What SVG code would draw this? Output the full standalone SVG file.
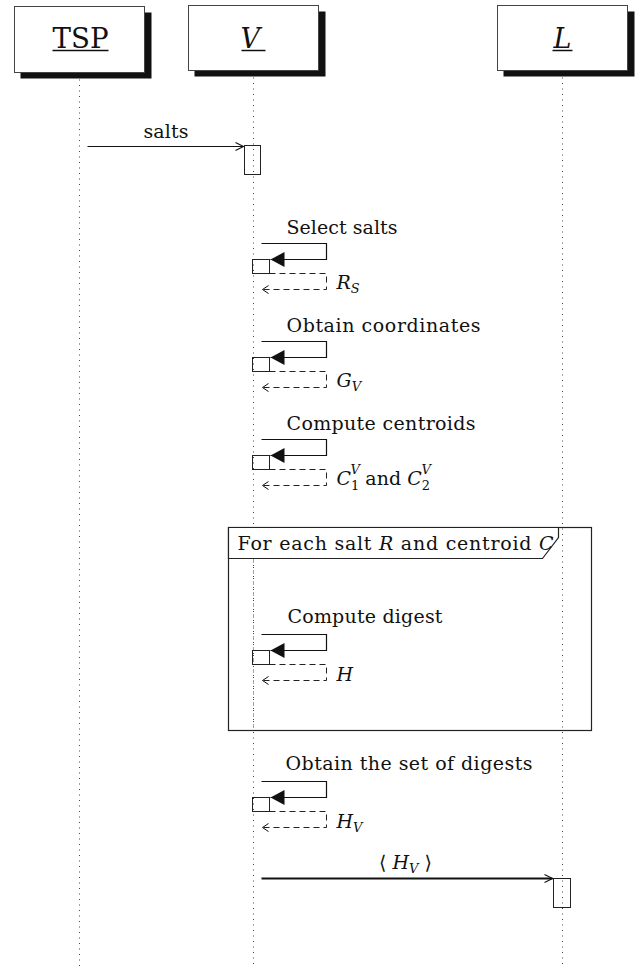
<svg xmlns="http://www.w3.org/2000/svg" width="635" height="971" viewBox="0 0 635 971">
<style>
.t{font-family:"DejaVu Serif","Liberation Serif",serif;font-size:19px;fill:#111}
.h{font-family:"DejaVu Serif","Liberation Serif",serif;font-size:27px;fill:#111}
.i{font-style:italic}
.s{font-size:13px}
.life{stroke:#444;stroke-width:1;stroke-dasharray:1 4.5;fill:none}
.box{fill:#fff;stroke:#444;stroke-width:1}
.shadow{fill:#111}
.ln{stroke:#111;stroke-width:1.2;fill:none}
.dash{stroke:#222;stroke-width:1;fill:none;stroke-dasharray:6 4}
.act{fill:none;stroke:#222;stroke-width:1}
</style>
<defs>
<marker id="open" markerWidth="10" markerHeight="10" refX="9" refY="5" orient="auto" markerUnits="userSpaceOnUse">
<path d="M1,1 L9,5 L1,9" fill="none" stroke="#111" stroke-width="1.1"/>
</marker>
<marker id="fill" markerWidth="16" markerHeight="16" refX="15" refY="8" orient="auto" markerUnits="userSpaceOnUse">
<path d="M1,0.5 L15,8 L1,15.5 Z" fill="#111"/>
</marker>
<g id="selfmsg">
<path class="ln" d="M261,0 H326 V16 H270" marker-end="url(#fill)"/>
<rect class="act" x="252" y="16" width="17" height="14"/>
<path class="dash" d="M269,30 H326 V46 H263"/>
<path d="M268,42 L262,46 L268,50" fill="none" stroke="#111" stroke-width="1"/>
</g>
</defs>
<g transform="translate(0.5,0.5)">
<g id="lifelines">
<line class="life" x1="79" y1="79" x2="79" y2="968"/>
<line class="life" x1="253" y1="77" x2="253" y2="968"/>
<line class="life" x1="562" y1="77" x2="562" y2="968"/>
</g>

<g id="TSP">
<rect class="shadow" x="20" y="12" width="131" height="66"/>
<rect class="box" x="14" y="6" width="130" height="66"/>
<text class="h" x="52" y="47" textLength="56" lengthAdjust="spacingAndGlyphs">TSP</text>
<line x1="52" y1="50" x2="108" y2="50" stroke="#111" stroke-width="1.5"/>
</g>
<g id="V">
<rect class="shadow" x="194" y="11" width="131" height="65"/>
<rect class="box" x="188" y="5" width="130" height="65"/>
<text class="h i" x="240" y="47">V</text>
<line x1="241" y1="50" x2="265" y2="50" stroke="#111" stroke-width="1.5"/>
</g>
<g id="L">
<rect class="shadow" x="503" y="11" width="131" height="65"/>
<rect class="box" x="497" y="5" width="130" height="65"/>
<text class="h i" x="553" y="47">L</text>
<line x1="552" y1="50" x2="572" y2="50" stroke="#111" stroke-width="1.5"/>
</g>

<g id="frame">
<rect x="228" y="527" width="363" height="203" fill="none" stroke="#222" stroke-width="1.2"/>
<path d="M228,527 H558 V537 L542,558 H228 Z" fill="#fff" stroke="#222" stroke-width="1.2"/>
<text class="t" x="237" y="549" textLength="316">For each salt <tspan class="i">R</tspan> and centroid <tspan class="i">C</tspan></text>
<line class="life" x1="253" y1="559" x2="253" y2="729"/>
</g>

<g id="connectors">
<line class="ln" x1="87" y1="146" x2="243" y2="146" marker-end="url(#open)"/>
<text class="t" x="143" y="137" textLength="45">salts</text>
<rect class="act" x="244" y="145" width="16" height="29"/>

<use href="#selfmsg" y="243"/>
<text class="t" x="286" y="233" textLength="111">Select salts</text>
<text class="t i" x="336" y="288">R<tspan class="s" dy="4">S</tspan></text>

<use href="#selfmsg" y="341"/>
<text class="t" x="286" y="331" textLength="194">Obtain coordinates</text>
<text class="t i" x="336" y="386">G<tspan class="s" dy="4">V</tspan></text>

<use href="#selfmsg" y="439"/>
<text class="t" x="286" y="429" textLength="189">Compute centroids</text>
<text class="t" x="336" y="484"><tspan class="i">C</tspan><tspan class="s" dy="5">1</tspan><tspan dy="-5"> and </tspan><tspan class="i">C</tspan><tspan class="s" dy="5">2</tspan></text>
<text class="t i s" x="350" y="473">V</text>
<text class="t i s" x="421" y="473">V</text>

<use href="#selfmsg" y="634"/>
<text class="t" x="287" y="622" textLength="155">Compute digest</text>
<text class="t i" x="336" y="680">H</text>

<use href="#selfmsg" y="781"/>
<text class="t" x="285" y="769" textLength="247">Obtain the set of digests</text>
<text class="t i" x="336" y="827">H<tspan class="s" dy="4">V</tspan></text>

<line x1="261" y1="878" x2="552" y2="878" stroke="#111" stroke-width="1.8" marker-end="url(#open)"/>
<text class="t" x="405" y="868" text-anchor="middle">⟨ <tspan class="i">H</tspan><tspan class="s i" dy="4">V</tspan><tspan dy="-4"> ⟩</tspan></text>
<rect class="act" x="553" y="878" width="17" height="29"/>
</g>
</g>
</svg>
